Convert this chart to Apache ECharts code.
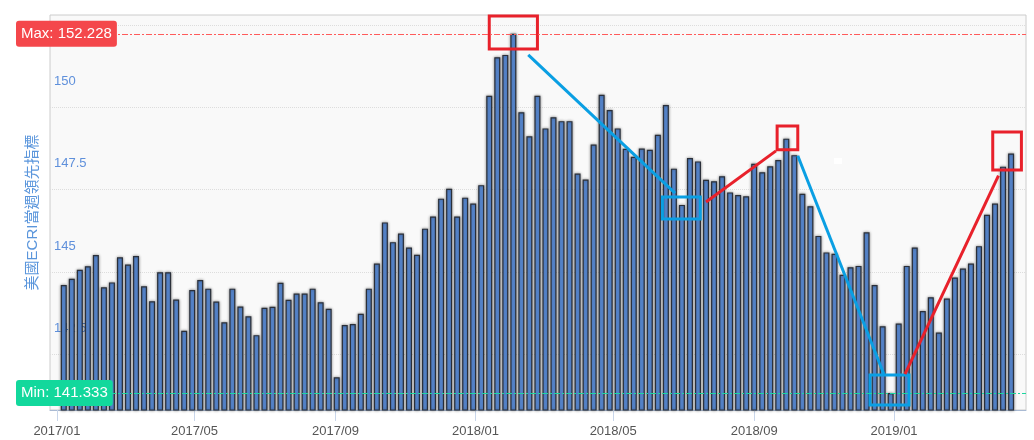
<!DOCTYPE html>
<html><head><meta charset="utf-8">
<script src="https://cdn.jsdelivr.net/npm/echarts@6/dist/echarts.min.js"></script>
<style>html,body{margin:0;padding:0;background:#fff}#c{width:1034px;height:440px}</style>
</head><body><div id="c"></div>
<script>
// ---- data ----
const dates = [
'2017-01-07','2017-01-14','2017-01-21','2017-01-28','2017-02-04','2017-02-11','2017-02-18','2017-02-25',
'2017-03-04','2017-03-11','2017-03-18','2017-03-25','2017-04-01','2017-04-08','2017-04-15','2017-04-22','2017-04-29',
'2017-05-06','2017-05-13','2017-05-20','2017-05-27','2017-06-03','2017-06-10','2017-06-17','2017-06-24',
'2017-07-01','2017-07-08','2017-07-15','2017-07-22','2017-07-29','2017-08-05','2017-08-12','2017-08-19','2017-08-26',
'2017-09-02','2017-09-09','2017-09-16','2017-09-23','2017-09-30','2017-10-07','2017-10-14','2017-10-21','2017-10-28',
'2017-11-04','2017-11-11','2017-11-18','2017-11-25','2017-12-02','2017-12-09','2017-12-16','2017-12-23','2017-12-30',
'2018-01-06','2018-01-13','2018-01-20','2018-01-27','2018-02-03','2018-02-10','2018-02-17','2018-02-24',
'2018-03-03','2018-03-10','2018-03-17','2018-03-24','2018-03-31','2018-04-07','2018-04-14','2018-04-21','2018-04-28',
'2018-05-05','2018-05-12','2018-05-19','2018-05-26','2018-06-02','2018-06-09','2018-06-16','2018-06-23','2018-06-30',
'2018-07-07','2018-07-14','2018-07-21','2018-07-28','2018-08-04','2018-08-11','2018-08-18','2018-08-25',
'2018-09-01','2018-09-08','2018-09-15','2018-09-22','2018-09-29','2018-10-06','2018-10-13','2018-10-20','2018-10-27',
'2018-11-03','2018-11-10','2018-11-17','2018-11-24','2018-12-01','2018-12-08','2018-12-15','2018-12-22','2018-12-29',
'2019-01-05','2019-01-12','2019-01-19','2019-01-26','2019-02-02','2019-02-09','2019-02-16','2019-02-23',
'2019-03-02','2019-03-09','2019-03-16','2019-03-23','2019-03-30','2019-04-06','2019-04-13'
];
const values = [
144.61,144.80,145.07,145.18,145.52,144.54,144.69,145.45,
145.23,145.49,144.57,144.12,145.00,145.00,144.17,143.22,144.46,
144.76,144.50,144.11,143.48,144.50,143.96,143.66,143.09,
143.92,143.95,144.68,144.16,144.35,144.35,144.50,144.09,143.89,
141.81,143.40,143.43,143.74,144.50,145.26,146.51,145.91,146.17,
145.75,145.53,146.32,146.69,147.23,147.53,146.69,147.26,147.08,
147.64,150.35,151.52,151.59,152.228,149.85,149.12,150.35,
149.36,149.70,149.58,149.58,147.99,147.81,148.87,150.38,149.92,
149.36,148.74,148.50,148.75,148.71,149.17,150.07,148.14,147.04,
148.46,148.36,147.80,147.76,147.91,147.42,147.34,147.30,
148.29,148.03,148.21,148.40,149.05,148.55,147.38,147.00,146.10,
145.60,145.56,144.92,145.15,145.19,146.21,144.61,143.36,141.333,
143.44,145.19,145.75,143.82,144.24,143.17,144.20,144.84,
145.11,145.26,145.79,146.74,147.08,148.20,148.60
];
const xTickDates = ['2017-01-01','2017-05-01','2017-09-01','2018-01-01','2018-05-01','2018-09-01','2019-01-01'];
const xTickLabels = ['2017/01','2017/05','2017/09','2018/01','2018/05','2018/09','2019/01'];
const yLabelValues = [142.5, 145, 147.5, 150];
const yGridValues = [142.5, 145, 147.5, 150, 152.5];
const yAxisName = '美國ECRI當週領先指標';
const xRange = ['2016-12-26', '2019-04-26'];
const yRange = [140.82, 152.8];

// annotations (data space)
const redBoxes = [
  [['2018-01-13', 152.77], ['2018-02-24', 151.77]],
  [['2018-09-21', 149.43], ['2018-10-09', 148.71]],
  [['2019-03-28', 149.25], ['2019-04-22', 148.10]]
];
const blueBoxes = [
  [['2018-06-13', 147.28], ['2018-07-16', 146.61]],
  [['2018-12-11', 141.88], ['2019-01-14', 140.97]]
];
const blueLines = [
  [['2018-02-16', 151.59], ['2018-06-24', 147.40]],
  [['2018-10-09', 148.53], ['2018-12-23', 141.91]]
];
const redLines = [
  [['2018-07-21', 147.13], ['2018-09-20', 148.68]],
  [['2019-01-10 12:00', 141.91], ['2019-04-02', 147.93]]
];
const whiteMarks = [
  [['2018-11-09 14:00', 148.46], ['2018-11-16 14:00', 148.28]]
];

// ---- chart ----
const RED = '#e8212b', BLUE = '#0a9fe3';
const ts = d => +echarts.time.parse(d);
const pt = p => [ts(p[0]), p[1]];
const tickTimes = xTickDates.map(ts);

const areaData = [];
redBoxes.forEach(b => areaData.push([{coord: pt(b[0]), itemStyle: {color: 'rgba(0,0,0,0)', borderColor: RED, borderWidth: 3}}, {coord: pt(b[1])}]));
blueBoxes.forEach(b => areaData.push([{coord: pt(b[0]), itemStyle: {color: 'rgba(0,0,0,0)', borderColor: BLUE, borderWidth: 3}}, {coord: pt(b[1])}]));
whiteMarks.forEach(b => areaData.push([{coord: pt(b[0]), itemStyle: {color: '#ffffff', borderWidth: 0}}, {coord: pt(b[1])}]));

const lineData = [
  {type: 'max', name: 'Max',
   lineStyle: {color: '#ff5b5b', type: [6, 2, 2, 2], width: 1},
   label: {formatter: 'Max: {c}', backgroundColor: '#f4474b'}},
  {type: 'min', name: 'Min',
   lineStyle: {color: '#1bd6a0', type: [6, 2, 2, 2], width: 1},
   label: {formatter: 'Min: {c}', backgroundColor: '#12d89c'}}
];
blueLines.forEach(l => lineData.push([{coord: pt(l[0]), lineStyle: {color: BLUE, width: 3, type: 'solid'}, label: {show: false}}, {coord: pt(l[1])}]));
redLines.forEach(l => lineData.push([{coord: pt(l[0]), lineStyle: {color: RED, width: 3, type: 'solid'}, label: {show: false}}, {coord: pt(l[1])}]));

const chart = echarts.init(document.getElementById('c'), null, {renderer: 'canvas'});
chart.setOption({
  animation: false,
  backgroundColor: '#ffffff',
  textStyle: {fontFamily: "'Liberation Sans', Arial, 'Noto Sans CJK TC', sans-serif"},
  grid: {left: 50, right: 8, top: 15, bottom: 30, show: true, backgroundColor: '#f9f9f9',
         borderColor: '#cccccc', borderWidth: 1, containLabel: false, outerBoundsMode: 'none'},
  xAxis: {
    type: 'value', min: ts(xRange[0]), max: ts(xRange[1]), scale: true,
    axisLine: {show: true, onZero: false, lineStyle: {color: '#a9bad3', width: 1}},
    axisTick: {show: true, length: 11, lineStyle: {color: '#c9d6ea'}, customValues: tickTimes},
    axisLabel: {customValues: tickTimes, color: '#555555', fontSize: 13, margin: 15,
      formatter: v => { const i = tickTimes.indexOf(v); return i >= 0 ? xTickLabels[i] : ''; }},
    splitLine: {show: false}
  },
  yAxis: {
    type: 'value', min: yRange[0], max: yRange[1],
    name: yAxisName, nameLocation: 'middle', nameGap: 10, nameRotate: 90, nameMoveOverlap: false,
    nameTextStyle: {color: '#5b96dc', fontSize: 15},
    axisLine: {show: false},
    axisTick: {show: false, customValues: yGridValues},
    axisLabel: {customValues: yLabelValues, inside: true, margin: 4, color: '#5f90db', fontSize: 13,
      lineHeight: 13, formatter: v => v + '\n\n\n\n'},
    splitLine: {show: true, lineStyle: {color: '#dddddd', type: 'dotted', width: 1}}
  },
  series: [{
    type: 'bar',
    data: values.map((v, i) => [ts(dates[i]), v]),
    barWidth: 6,
    itemStyle: {color: '#5b8dd8', borderColor: '#2b303a', borderWidth: 1.2,
      shadowColor: 'rgba(0,0,0,0.45)', shadowBlur: 3},
    markLine: {
      symbol: 'none', z: 6, silent: true, precision: 3,
      label: {show: true, position: 'start', align: 'left', distance: 34, color: '#ffffff',
        fontSize: 15, padding: [6, 5, 5, 5], borderRadius: 3},
      data: lineData
    },
    markArea: {z: 5, silent: true, label: {show: false}, data: areaData}
  }]
});
</script></body></html>
